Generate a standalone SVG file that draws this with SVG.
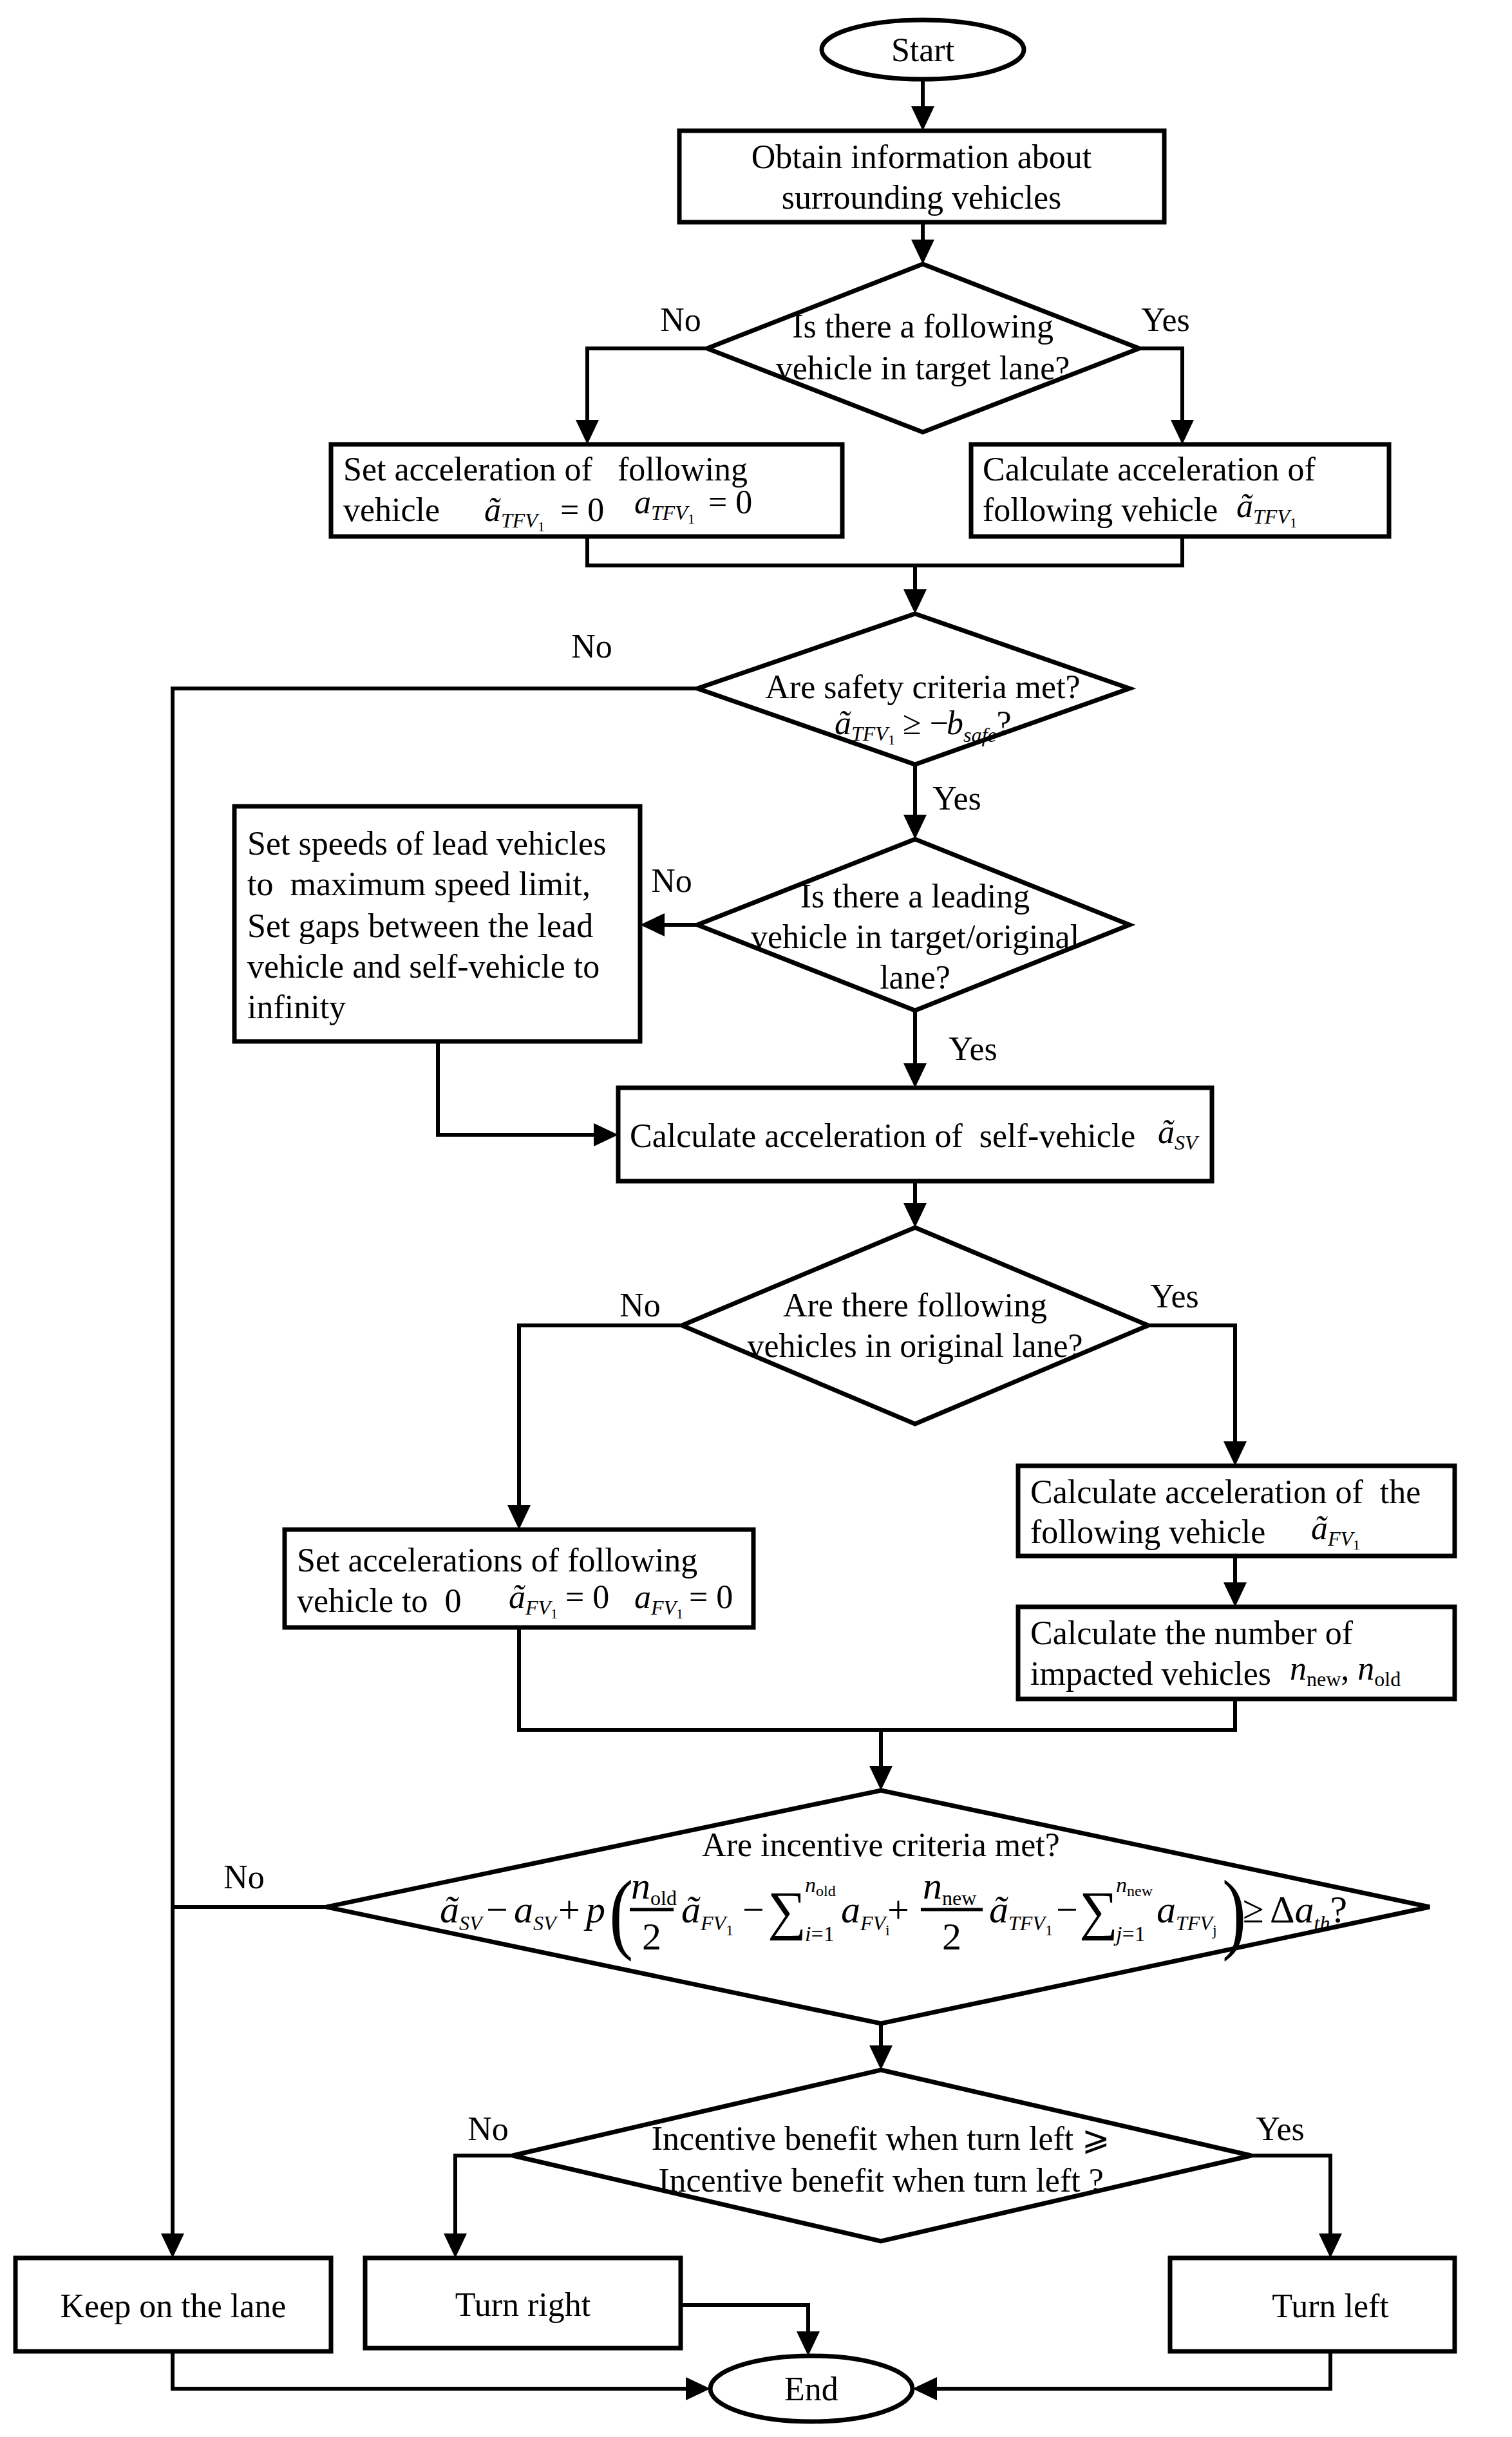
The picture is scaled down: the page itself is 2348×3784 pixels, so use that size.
<svg xmlns="http://www.w3.org/2000/svg" width="2348" height="3784" viewBox="0 0 2348 3784">
<style>
.t{font-family:"Liberation Serif","Times New Roman",serif;font-size:52px;fill:#000}
.c{text-anchor:middle}
.i{font-style:italic}
.s{font-size:32px}
.ss{font-size:22px;font-style:normal}
.up{font-style:normal}
.sh{fill:#fff;stroke:#000;stroke-width:7}
.ln{fill:none;stroke:#000;stroke-width:6}
.fm{font-family:"Liberation Serif","Times New Roman",serif;font-size:60px;fill:#000}
.fs{font-size:32px}
.fss{font-size:24px;font-style:normal}
</style>
<defs>
<marker id="ar" markerUnits="userSpaceOnUse" viewBox="0 0 38 36" refX="18" refY="18" markerWidth="38" markerHeight="36" orient="auto">
<path d="M0,0 L38,18 L0,36 z" fill="#000"/>
</marker>
</defs>
<rect width="2348" height="3784" fill="#fff"/>

<g id="connectors">
<path class="ln" d="M1433 123 V183" marker-end="url(#ar)"/>
<path class="ln" d="M1433 345 V390" marker-end="url(#ar)"/>
<path class="ln" d="M1098 541 H912 V670" marker-end="url(#ar)"/>
<path class="ln" d="M1769 541 H1836 V670" marker-end="url(#ar)"/>
<path class="ln" d="M912 833 V878 H1836 V833"/>
<path class="ln" d="M1421 878 V933" marker-end="url(#ar)"/>
<path class="ln" d="M1083 1069 H268 V3486" marker-end="url(#ar)"/>
<path class="ln" d="M1421 1187 V1283" marker-end="url(#ar)"/>
<path class="ln" d="M1083 1436 H1014" marker-end="url(#ar)"/>
<path class="ln" d="M1421 1569 V1669" marker-end="url(#ar)"/>
<path class="ln" d="M680 1617 V1762 H940" marker-end="url(#ar)"/>
<path class="ln" d="M1421 1834 V1886" marker-end="url(#ar)"/>
<path class="ln" d="M1059 2058 H806 V2355" marker-end="url(#ar)"/>
<path class="ln" d="M1783 2058 H1918 V2256" marker-end="url(#ar)"/>
<path class="ln" d="M1918 2416 V2475" marker-end="url(#ar)"/>
<path class="ln" d="M806 2527 V2686 H1918 V2638"/>
<path class="ln" d="M1368 2686 V2760" marker-end="url(#ar)"/>
<path class="ln" d="M507 2961 H268"/>
<path class="ln" d="M1368 3142 V3194" marker-end="url(#ar)"/>
<path class="ln" d="M796 3347 H707 V3486" marker-end="url(#ar)"/>
<path class="ln" d="M1943 3347 H2066 V3486" marker-end="url(#ar)"/>
<path class="ln" d="M268 3651 V3709 H1083" marker-end="url(#ar)"/>
<path class="ln" d="M1057 3579 H1255 V3638" marker-end="url(#ar)"/>
<path class="ln" d="M2066 3651 V3709 H1437" marker-end="url(#ar)"/>
</g>

<g id="labels">
<text class="t c" x="1057" y="514">No</text>
<text class="t c" x="1810" y="514">Yes</text>
<text class="t c" x="919" y="1021">No</text>
<text class="t c" x="1486" y="1257">Yes</text>
<text class="t c" x="1043" y="1385">No</text>
<text class="t c" x="1511" y="1646">Yes</text>
<text class="t c" x="994" y="2044">No</text>
<text class="t c" x="1824" y="2030">Yes</text>
<text class="t c" x="379" y="2932">No</text>
<text class="t c" x="758" y="3323">No</text>
<text class="t c" x="1988" y="3323">Yes</text>
</g>

<g id="start">
<ellipse class="sh" cx="1433" cy="77" rx="157" ry="46"/>
<text class="t c" x="1433" y="95">Start</text>
</g>

<g id="obtain">
<rect class="sh" x="1055" y="203" width="753" height="142"/>
<text class="t c" x="1431" y="261">Obtain information about</text>
<text class="t c" x="1431" y="324">surrounding vehicles</text>
</g>

<g id="d-following-target">
<polygon class="sh" points="1433,410 1769,541 1433,671 1098,541"/>
<text class="t c" x="1433" y="524">Is there a following</text>
<text class="t c" x="1433" y="589">vehicle in target lane?</text>
</g>

<g id="set-tfv">
<rect class="sh" x="514" y="690" width="794" height="143"/>
<text class="t" x="533" y="746" xml:space="preserve">Set acceleration of   following</text>
<text class="t" x="533" y="809">vehicle</text>
<text class="t i" x="752" y="809">ã<tspan class="s" dy="10">TFV</tspan><tspan class="ss" dy="6">1</tspan></text>
<text class="t" x="870" y="809">= 0</text>
<text class="t i" x="985" y="797">a<tspan class="s" dy="10">TFV</tspan><tspan class="ss" dy="6">1</tspan></text>
<text class="t" x="1100" y="797">= 0</text>
</g>

<g id="calc-tfv">
<rect class="sh" x="1508" y="690" width="649" height="143"/>
<text class="t" x="1526" y="746">Calculate acceleration of</text>
<text class="t" x="1526" y="809">following vehicle</text>
<text class="t i" x="1920" y="803">ã<tspan class="s" dy="10">TFV</tspan><tspan class="ss" dy="6">1</tspan></text>
</g>

<g id="d-safety">
<polygon class="sh" points="1421,953 1754,1069 1421,1187 1083,1069"/>
<text class="t c" x="1433" y="1084">Are safety criteria met?</text>
<text class="t i" x="1296" y="1140">ã<tspan class="s" dy="10">TFV</tspan><tspan class="ss" dy="6">1</tspan></text>
<text class="t" x="1402" y="1140">≥ −</text>
<text class="t i" x="1470" y="1140">b<tspan class="s" dy="12">safe</tspan><tspan class="up" dy="-12">?</tspan></text>
</g>

<g id="d-leading">
<polygon class="sh" points="1421,1303 1754,1436 1421,1569 1083,1436"/>
<text class="t c" x="1421" y="1409">Is there a leading</text>
<text class="t c" x="1421" y="1472">vehicle in target/original</text>
<text class="t c" x="1421" y="1535">lane?</text>
</g>

<g id="set-lead">
<rect class="sh" x="364" y="1252" width="630" height="365"/>
<text class="t" x="384" y="1327">Set speeds of lead vehicles</text>
<text class="t" x="384" y="1390" xml:space="preserve">to  maximum speed limit,</text>
<text class="t" x="384" y="1455">Set gaps between the lead</text>
<text class="t" x="384" y="1518">vehicle and self-vehicle to</text>
<text class="t" x="384" y="1581">infinity</text>
</g>

<g id="calc-sv">
<rect class="sh" x="960" y="1689" width="922" height="145"/>
<text class="t" x="978" y="1781" xml:space="preserve">Calculate acceleration of  self-vehicle</text>
<text class="t i" x="1798" y="1775">ã<tspan class="s" dy="10">SV</tspan></text>
</g>

<g id="d-following-original">
<polygon class="sh" points="1421,1906 1783,2058 1421,2211 1059,2058"/>
<text class="t c" x="1421" y="2044">Are there following</text>
<text class="t c" x="1421" y="2107">vehicles in original lane?</text>
</g>

<g id="set-fv">
<rect class="sh" x="442" y="2375" width="728" height="152"/>
<text class="t" x="461" y="2440">Set accelerations of following</text>
<text class="t" x="461" y="2503" xml:space="preserve">vehicle to  0</text>
<text class="t i" x="790" y="2497">ã<tspan class="s" dy="10">FV</tspan><tspan class="ss" dy="6">1</tspan></text>
<text class="t" x="878" y="2497">= 0</text>
<text class="t i" x="985" y="2497">a<tspan class="s" dy="10">FV</tspan><tspan class="ss" dy="6">1</tspan></text>
<text class="t" x="1070" y="2497">= 0</text>
</g>

<g id="calc-fv">
<rect class="sh" x="1581" y="2276" width="678" height="140"/>
<text class="t" x="1600" y="2334" xml:space="preserve">Calculate acceleration of  the</text>
<text class="t" x="1600" y="2396">following vehicle</text>
<text class="t i" x="2036" y="2390">ã<tspan class="s" dy="10">FV</tspan><tspan class="ss" dy="6">1</tspan></text>
</g>

<g id="calc-n">
<rect class="sh" x="1581" y="2495" width="678" height="143"/>
<text class="t" x="1600" y="2553">Calculate the number of</text>
<text class="t" x="1600" y="2616">impacted vehicles</text>
<text class="t i" x="2003" y="2608">n<tspan class="s up" dy="10">new</tspan><tspan class="up" dy="-10">, </tspan>n<tspan class="s up" dy="10">old</tspan></text>
</g>

<g id="d-incentive">
<polygon class="sh" points="1368,2780 2220,2961 1368,3142 507,2961"/>
<text class="t c" x="1368" y="2882">Are incentive criteria met?</text>
<g class="fm">
<text class="i" x="683" y="2985">ã<tspan class="fs" dy="12">SV</tspan></text>
<text x="772" y="2985" text-anchor="middle">−</text>
<text class="i" x="798" y="2985">a<tspan class="fs" dy="12">SV</tspan></text>
<text x="884" y="2985" text-anchor="middle">+</text>
<text class="i" x="910" y="2985">p</text>
<text x="946" y="3016" font-size="140" transform="translate(946 2966) scale(0.8 1) translate(-946 -2966)">(</text>
<text class="i" x="980" y="2948">n<tspan class="up fs" dy="10">old</tspan></text>
<path d="M978 2965 H1046" stroke="#000" stroke-width="5"/>
<text x="1012" y="3027" text-anchor="middle">2</text>
<text class="i" x="1058" y="2985">ã<tspan class="fs" dy="12">FV</tspan><tspan class="fss" dy="8">1</tspan></text>
<text x="1170" y="2985" text-anchor="middle">−</text>
<text x="1192" y="2995" font-size="84">∑</text>
<text class="i" x="1250" y="2938" font-size="34">n<tspan class="fss" dy="6">old</tspan></text>
<text class="i" x="1250" y="3014" font-size="34">i<tspan class="up">=1</tspan></text>
<text class="i" x="1306" y="2985">a<tspan class="fs" dy="12">FV</tspan><tspan class="fss" font-style="italic" dy="8">i</tspan></text>
<text x="1395" y="2985" text-anchor="middle">+</text>
<text class="i" x="1433" y="2948">n<tspan class="up fs" dy="10">new</tspan></text>
<path d="M1430 2965 H1526" stroke="#000" stroke-width="5"/>
<text x="1478" y="3027" text-anchor="middle">2</text>
<text class="i" x="1536" y="2985">ã<tspan class="fs" dy="12">TFV</tspan><tspan class="fss" dy="8">1</tspan></text>
<text x="1657" y="2985" text-anchor="middle">−</text>
<text x="1676" y="2995" font-size="84">∑</text>
<text class="i" x="1733" y="2938" font-size="34">n<tspan class="fss" dy="6">new</tspan></text>
<text class="i" x="1733" y="3014" font-size="34">j<tspan class="up">=1</tspan></text>
<text class="i" x="1796" y="2985">a<tspan class="fs" dy="12">TFV</tspan><tspan class="fss" font-style="italic" dy="8">j</tspan></text>
<text x="1898" y="3016" font-size="140" transform="translate(1898 2966) scale(0.8 1) translate(-1898 -2966)">)</text>
<text x="1930" y="2985">≥</text>
<text x="1972" y="2985">Δ<tspan class="i">a</tspan><tspan class="i fs" dy="12">th</tspan><tspan dy="-12">?</tspan></text>
</g>
</g>

<g id="d-direction">
<polygon class="sh" points="1368,3214 1943,3347 1368,3480 796,3347"/>
<text class="t c" x="1368" y="3338">Incentive benefit when turn left ⩾</text>
<text class="t c" x="1368" y="3403">Incentive benefit when turn left ?</text>
</g>

<g id="keep">
<rect class="sh" x="24" y="3506" width="490" height="145"/>
<text class="t c" x="269" y="3598">Keep on the lane</text>
</g>

<g id="turn-right">
<rect class="sh" x="567" y="3506" width="490" height="140"/>
<text class="t c" x="812" y="3596">Turn right</text>
</g>

<g id="turn-left">
<rect class="sh" x="1817" y="3506" width="442" height="145"/>
<text class="t c" x="2066" y="3598">Turn left</text>
</g>

<g id="end">
<ellipse class="sh" cx="1260" cy="3709" rx="157" ry="51"/>
<text class="t c" x="1260" y="3727">End</text>
</g>
</svg>
